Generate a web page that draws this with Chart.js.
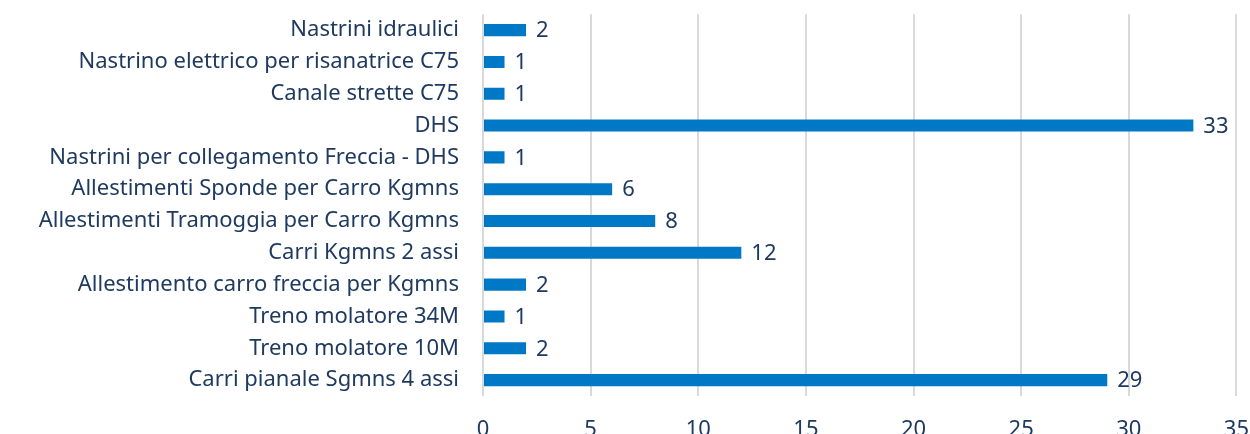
<!DOCTYPE html>
<html>
<head>
<meta charset="utf-8">
<script src="https://cdn.jsdelivr.net/npm/chart.js@4"></script>
<style>
  html, body { margin: 0; padding: 0; background: #fff; overflow: hidden; }
  #wrap { width: 1270px; height: 465px; margin-top: -15px; position: relative; }
</style>
</head>
<body>
<div id="wrap"><canvas id="chart"></canvas></div>
<script>
const categories = [
  'Nastrini idraulici',
  'Nastrino elettrico per risanatrice C75',
  'Canale strette C75',
  'DHS',
  'Nastrini per collegamento Freccia - DHS',
  'Allestimenti Sponde per Carro Kgmns',
  'Allestimenti Tramoggia per Carro Kgmns',
  'Carri Kgmns 2 assi',
  'Allestimento carro freccia per Kgmns',
  'Treno molatore 34M',
  'Treno molatore 10M',
  'Carri pianale Sgmns 4 assi'
];
const values = [2, 1, 1, 33, 1, 6, 8, 12, 2, 1, 2, 29];
const xTicks = [0, 5, 10, 15, 20, 25, 30, 35];

const textColor = '#1F3A60';
const fontFamily = '"Noto Sans", "Open Sans", sans-serif';

// draw the value next to each bar
const valueLabels = {
  id: 'valueLabels',
  afterDatasetsDraw(chart) {
    const ctx = chart.ctx;
    const meta = chart.getDatasetMeta(0);
    ctx.save();
    ctx.fillStyle = textColor;
    ctx.font = '22px ' + fontFamily;
    ctx.textAlign = 'left';
    ctx.textBaseline = 'middle';
    meta.data.forEach((bar, i) => {
      ctx.fillText(values[i], bar.x + 10, bar.y + 1);
    });
    ctx.restore();
  }
};

const ctx = document.getElementById('chart').getContext('2d');
new Chart(ctx, {
  type: 'bar',
  data: {
    labels: categories,
    datasets: [{
      data: values,
      backgroundColor: '#0078C6',
      categoryPercentage: 1,
      barPercentage: 0.38
    }]
  },
  options: {
    indexAxis: 'y',
    responsive: true,
    maintainAspectRatio: false,
    animation: false,
    layout: { padding: { top: 14, right: 13, left: 0, bottom: 0 } },
    plugins: {
      legend: { display: false },
      tooltip: { enabled: false }
    },
    scales: {
      x: {
        min: 0,
        max: 35,
        afterBuildTicks(axis) {
          axis.ticks = xTicks.map(v => ({ value: v }));
        },
        afterFit(axis) { axis.height = 54; },
        grid: { color: '#D9D9D9', lineWidth: 2, drawTicks: false },
        border: { display: false },
        ticks: {
          color: textColor,
          padding: 21,
          maxRotation: 0,
          font: { family: fontFamily, size: 22 }
        }
      },
      y: {
        afterFit(axis) { axis.width = 483; },
        grid: { display: false },
        border: { display: false },
        ticks: {
          color: textColor,
          padding: 16,
          autoSkip: false,
          font: { family: fontFamily, size: 22 }
        }
      }
    }
  },
  plugins: [valueLabels]
});
</script>
</body>
</html>
